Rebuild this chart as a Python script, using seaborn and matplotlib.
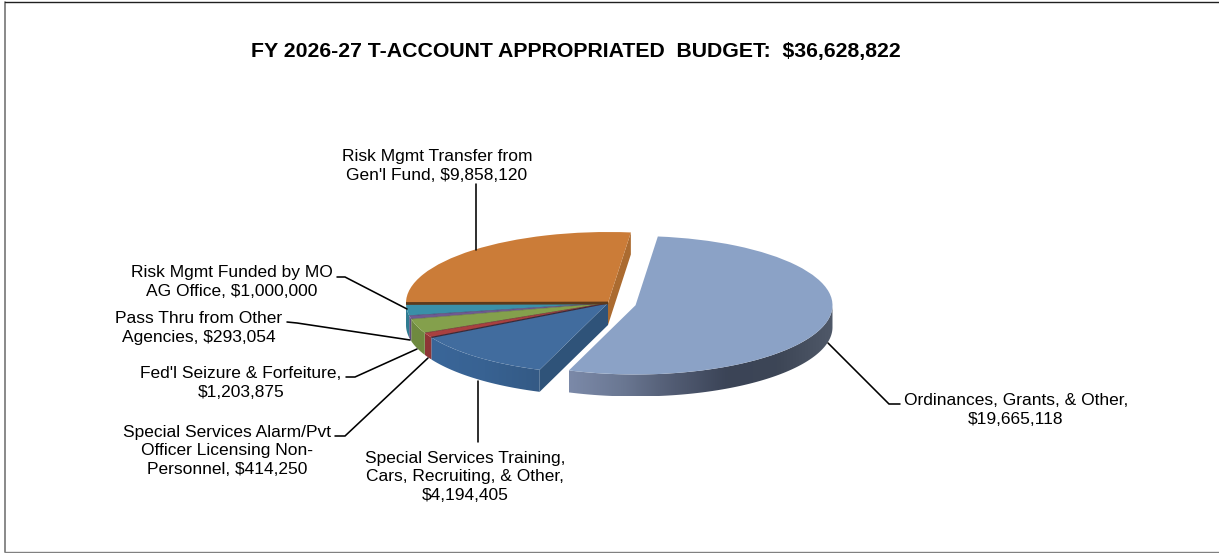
import numpy as np
import matplotlib
matplotlib.use("Agg")
import matplotlib.pyplot as plt
from matplotlib.patches import Polygon
from matplotlib.transforms import Affine2D
import seaborn as sns

# Budget sources, clockwise from the pulled-out slice
sources = [
    "Ordinances, Grants, & Other,\n$19,665,118",
    "Special Services Training,\nCars, Recruiting, & Other,\n$4,194,405",
    "Special Services Alarm/Pvt\nOfficer Licensing Non-\nPersonnel, $414,250",
    "Fed'l Seizure & Forfeiture,\n$1,203,875",
    "Pass Thru from Other\nAgencies, $293,054",
    "Risk Mgmt Funded by MO\nAG Office, $1,000,000",
    "Risk Mgmt Transfer from\nGen'l Fund, $9,858,120",
]
amounts = [19665118, 4194405, 414250, 1203875, 293054, 1000000, 9858120]
top_colors = ["#8BA2C6", "#416C9E", "#A94040", "#84A04C", "#6F5A92", "#3A90A8", "#CB7C38"]
title = "FY 2026-27 T-ACCOUNT APPROPRIATED  BUDGET:  $36,628,822"

# Layout of the figure, in pixels measured from the top-left corner
W, H = 1219, 553
PIE_X, PIE_Y, RX, RY, DEPTH_PX = 608, 303, 202, 71, 22
label_pos = [(1016, 410), (465, 477), (227, 451), (241, 383), (199, 328), (232, 282), (437, 166)]
leaders = [
    [(900, 404), (889, 404), (828, 343)],
    [(478, 442), (478, 381)],
    [(335, 436), (345, 436), (428, 358)],
    [(346, 377), (355, 377), (417, 349)],
    [(287, 322), (297, 323), (410, 340)],
    [(337, 277), (345, 277), (407, 309)],
    [(476, 184), (476, 250)],
]

sns.set_theme(style="white")
plt.rcParams["font.family"] = ["Liberation Sans", "DejaVu Sans"]

fig = plt.figure(figsize=(W / 100, H / 100), dpi=100, facecolor="white")
ax = fig.add_axes([0, 0, 1, 1])
pixel = Affine2D().scale(1 / W, -1 / H).translate(0, 1) + fig.transFigure

wedges, _ = ax.pie(
    amounts,
    colors=sns.color_palette(top_colors),
    startangle=83.5,
    counterclock=False,
    explode=[0.14, 0, 0, 0, 0, 0, 0],
    wedgeprops={"linewidth": 0, "zorder": 5},
)
wedges[0].set_radius(0.975)
ax.set_aspect("auto")
ax.set_xlim(-PIE_X / RX, (W - PIE_X) / RX)
ax.set_ylim(-(H - PIE_Y) / RY, PIE_Y / RY)
ax.set_axis_off()

depth = DEPTH_PX / RY


def edge_point(wedge, angle):
    rad = np.deg2rad(angle)
    return wedge.center[0] + wedge.r * np.cos(rad), wedge.center[1] + wedge.r * np.sin(rad)


def gradient_fill(outline, ramp, zorder):
    xs = [p[0] for p in outline]
    ys = [p[1] for p in outline]
    ramp = np.array(sns.blend_palette(ramp, 64))[np.newaxis, :, :]
    im = ax.imshow(ramp, extent=(min(xs), max(xs), min(ys), max(ys)), aspect="auto",
                   interpolation="bilinear", zorder=zorder)
    im.set_clip_path(Polygon(outline, closed=True, transform=ax.transData))


# Outer rim of each slice where it faces the viewer
rim_ramps = [
    ["#7B89A8", "#6A7792", "#515B72", "#3B4457", "#3D4656", "#4F5868"],
    ["#3A6699", "#386292", "#345A85"],
    ["#8E3636", "#8E3636"],
    ["#6F8A40", "#6F8A40"],
    ["#5E4C7E", "#5E4C7E"],
    ["#307C92", "#307C92"],
    ["#AB6B30", "#AB6B30"],
]
for wedge, ramp in zip(wedges, rim_ramps):
    lo, hi = max(wedge.theta1, -180), min(wedge.theta2, 0)
    if hi <= lo:
        continue
    arc = [edge_point(wedge, a) for a in np.linspace(lo, hi, 120)]
    outline = arc + [(x, y - depth) for x, y in reversed(arc)]
    gradient_fill(outline, ramp, 3)

# Cut faces visible to the right of the blue and orange slices
for wedge, angle, shade in [(wedges[1], wedges[1].theta2, "#2F5379"),
                            (wedges[6], wedges[6].theta1, "#AB6B30")]:
    cx, cy = wedge.center
    ex, ey = edge_point(wedge, angle)
    ax.add_patch(Polygon([(cx, cy), (ex, ey), (ex, ey - depth), (cx, cy - depth)],
                         closed=True, facecolor=shade, edgecolor="none", zorder=2))

# Shadowed seams between neighbouring slices
seams = [(wedges[1], wedges[1].theta1, 0.9, "#3A2A38"), (wedges[2], wedges[2].theta1, 0.5, "#6E3030"),
         (wedges[3], wedges[3].theta1, 0.4, "#5E7438"), (wedges[4], wedges[4].theta1, 0.4, "#4A3C66"),
         (wedges[6], wedges[6].theta2, 2.0, "#5C3A1C")]
for wedge, angle, width, dark in seams:
    ex, ey = edge_point(wedge, angle)
    ax.plot([wedge.center[0], ex], [wedge.center[1], ey], color=dark, lw=width,
            solid_capstyle="butt", zorder=6)

# Callout labels with their leader lines
for text, (x, y), path in zip(sources, label_pos, leaders):
    ax.text(x, y, text, transform=pixel, ha="center", va="center", ma="center",
            fontsize=12.55, color="black", linespacing=1.32, zorder=8)
    px, py = zip(*path)
    ax.plot(px, py, transform=pixel, color="black", lw=1.15, solid_joinstyle="miter", zorder=7)

ax.text(576, 51.5, title, transform=pixel, ha="center", va="center", fontsize=15.28,
        fontweight="bold", color="black", zorder=8)

# Chart frame: left and bottom in grey, top in black, open on the right
ax.plot([5, 5], [2, 552], transform=pixel, color="#808080", lw=1.3, clip_on=False, zorder=9)
ax.plot([5, W], [552, 552], transform=pixel, color="#808080", lw=1.0, clip_on=False, zorder=9)
ax.plot([5, W], [2, 2], transform=pixel, color="#202020", lw=1.0, clip_on=False, zorder=9)

fig.savefig("out.png", dpi=100, facecolor="white")
